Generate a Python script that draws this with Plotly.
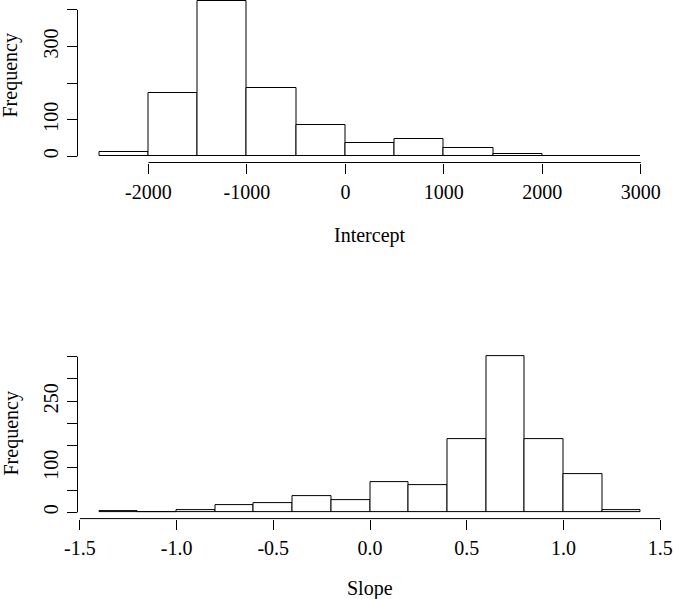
import plotly.graph_objects as go

# ---- data ----
intercept_breaks = [-2500, -2000, -1500, -1000, -500, 0, 500, 1000, 1500, 2000, 2500, 3000]
intercept_counts = [13, 174, 425, 187, 86, 37, 48, 22, 5, 2, 1]
intercept_xticks = [-2000, -1000, 0, 1000, 2000, 3000]
intercept_yticks = [0, 100, 200, 300, 400]
intercept_ylabels = ["0", "100", "", "300", ""]

slope_breaks = [-1.4, -1.2, -1.0, -0.8, -0.6, -0.4, -0.2, 0.0, 0.2, 0.4, 0.6, 0.8, 1.0, 1.2, 1.4]
slope_counts = [2, 0, 4, 16, 20, 36, 27, 69, 62, 165, 352, 164, 86, 4]
slope_xticks = [-1.5, -1.0, -0.5, 0.0, 0.5, 1.0, 1.5]
slope_xlabels = ["-1.5", "-1.0", "-0.5", "0.0", "0.5", "1.0", "1.5"]
slope_yticks = [0, 50, 100, 150, 200, 250, 300, 350]
slope_ylabels = ["0", "", "100", "", "", "250", "", ""]

W, H = 673, 599
FONT = "Liberation Serif"
FS = 20

def mids(b):
    return [(b[i] + b[i + 1]) / 2 for i in range(len(b) - 1)]

def widths(b):
    return [b[i + 1] - b[i] for i in range(len(b) - 1)]

fig = go.Figure()
fig.add_trace(go.Bar(x=mids(intercept_breaks), y=intercept_counts, width=widths(intercept_breaks),
                     marker=dict(color="white", line=dict(color="black", width=1)),
                     xaxis="x", yaxis="y", showlegend=False, hoverinfo="skip"))
fig.add_trace(go.Bar(x=mids(slope_breaks), y=slope_counts, width=widths(slope_breaks),
                     marker=dict(color="white", line=dict(color="black", width=1)),
                     xaxis="x2", yaxis="y2", showlegend=False, hoverinfo="skip"))

xl, xr = 77.5 / W, 662.5 / W
top_dom = [1 - 162.5 / H, 1.0]
bot_dom = [1 - 518.6 / H, 1 - 349.1 / H]

axis_common = dict(showgrid=False, zeroline=False, showline=False, ticks="outside",
                   ticklen=10, tickwidth=1, tickcolor="black", automargin=False,
                   tickfont=dict(family=FONT, size=FS, color="black"), fixedrange=True)

fig.update_layout(
    width=W, height=H, margin=dict(l=0, r=0, t=0, b=0, autoexpand=False),
    paper_bgcolor="white", plot_bgcolor="white", bargap=0,
    font=dict(family=FONT, size=FS, color="black"),
    xaxis=dict(domain=[xl, xr], range=[-2720, 3220], anchor="y",
               tickmode="array", tickvals=intercept_xticks,
               ticktext=[str(v) for v in intercept_xticks], ticklabelstandoff=1, **axis_common),
    yaxis=dict(domain=top_dom, range=[-17, 427], anchor="x",
               tickmode="array", tickvals=intercept_yticks, ticktext=intercept_ylabels,
               tickangle=-90, ticklabelstandoff=1, **axis_common),
    xaxis2=dict(domain=[xl, xr], range=[-1.512, 1.512], anchor="y2",
                tickmode="array", tickvals=slope_xticks, ticktext=slope_xlabels,
                ticklabelstandoff=1, **axis_common),
    yaxis2=dict(domain=bot_dom, range=[-14.1, 367.1], anchor="x2",
                tickmode="array", tickvals=slope_yticks, ticktext=slope_ylabels,
                tickangle=-90, ticklabelstandoff=1, **axis_common),
)

# axis lines spanning only the tick range (R style)
line = dict(color="black", width=1)
fig.add_shape(type="line", xref="x", yref="y domain", x0=intercept_xticks[0], x1=intercept_xticks[-1], y0=0, y1=0, line=line)
fig.add_shape(type="line", xref="x domain", yref="y", x0=0, x1=0, y0=intercept_yticks[0], y1=intercept_yticks[-1], line=line)
fig.add_shape(type="line", xref="x2", yref="y2 domain", x0=slope_xticks[0], x1=slope_xticks[-1], y0=0, y1=0, line=line)
fig.add_shape(type="line", xref="x2 domain", yref="y2", x0=0, x1=0, y0=slope_yticks[0], y1=slope_yticks[-1], line=line)

# axis titles
cx = (xl + xr) / 2
fig.add_annotation(text="Intercept", x=cx, y=1 - 235 / H, xref="paper", yref="paper",
                   showarrow=False, font=dict(family=FONT, size=FS), xanchor="center", yanchor="middle")
fig.add_annotation(text="Slope", x=cx, y=1 - 588 / H, xref="paper", yref="paper",
                   showarrow=False, font=dict(family=FONT, size=FS), xanchor="center", yanchor="middle")
fig.add_annotation(text="Frequency", x=10.5 / W, y=1 - 76 / H, xref="paper", yref="paper", textangle=-90,
                   showarrow=False, font=dict(family=FONT, size=FS), xanchor="center", yanchor="middle")
fig.add_annotation(text="Frequency", x=10.5 / W, y=1 - 434 / H, xref="paper", yref="paper", textangle=-90,
                   showarrow=False, font=dict(family=FONT, size=FS), xanchor="center", yanchor="middle")

fig.write_html("out.html", config={"displayModeBar": False},
               post_script="document.body.style.margin='0';document.body.style.overflow='hidden';")
